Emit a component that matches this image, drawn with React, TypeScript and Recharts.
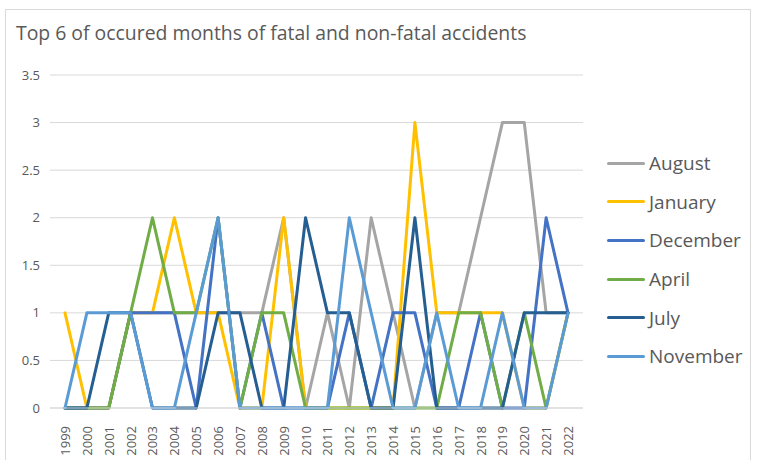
import { LineChart, Line, XAxis, YAxis, CartesianGrid } from 'recharts';

const years = [
  '1999', '2000', '2001', '2002', '2003', '2004', '2005', '2006', '2007', '2008', '2009', '2010',
  '2011', '2012', '2013', '2014', '2015', '2016', '2017', '2018', '2019', '2020', '2021', '2022',
];
const august = [0, 0, 0, 1, 1, 1, 1, 1, 1, 1, 2, 0, 1, 0, 2, 1, 0, 1, 1, 2, 3, 3, 1, 1];
const january = [1, 0, 0, 1, 1, 2, 1, 1, 0, 0, 2, 0, 0, 0, 0, 0, 3, 1, 1, 1, 1, 0, 0, 1];
const december = [0, 0, 0, 1, 1, 1, 0, 2, 0, 1, 0, 0, 0, 1, 0, 1, 1, 0, 0, 1, 0, 0, 2, 1];
const april = [0, 0, 0, 1, 2, 1, 1, 2, 0, 1, 1, 0, 0, 0, 0, 0, 0, 0, 1, 1, 0, 1, 0, 1];
const july = [0, 0, 1, 1, 0, 0, 0, 1, 1, 0, 0, 2, 1, 1, 0, 0, 2, 0, 0, 0, 0, 1, 1, 1];
const november = [0, 1, 1, 1, 0, 0, 1, 2, 0, 0, 0, 0, 0, 2, 1, 0, 0, 1, 0, 0, 1, 0, 0, 1];
const yTicks = [0, 0.5, 1, 1.5, 2, 2.5, 3, 3.5];

// drawn bottom to top, same order as the legend
const series = [
  { key: 'August', values: august, color: '#A5A5A5' },
  { key: 'January', values: january, color: '#FFC000' },
  { key: 'December', values: december, color: '#4472C4' },
  { key: 'April', values: april, color: '#70AD47' },
  { key: 'July', values: july, color: '#255E91' },
  { key: 'November', values: november, color: '#5B9BD5' },
];

const data = years.map((year, i) => {
  const row: Record<string, string | number> = { year };
  series.forEach((s) => {
    row[s.key] = s.values[i];
  });
  return row;
});

const FONT = '"Open Sans", sans-serif';
const TEXT = '#595959';

function YearTick({ x, y, payload }: any) {
  return (
    <text
      x={x}
      y={y}
      transform={`rotate(-90, ${x}, ${y})`}
      dx={-10}
      dy={5}
      textAnchor="end"
      fontSize={13}
      fontFamily={FONT}
      fill={TEXT}
    >
      {payload.value}
    </text>
  );
}

function MonthLegend() {
  return (
    <div style={{ position: 'absolute', left: 607, top: 144, fontFamily: FONT, fontSize: 19, color: TEXT }}>
      {series.map((s) => (
        <div key={s.key} style={{ display: 'flex', alignItems: 'center', height: 38.6 }}>
          <span style={{ display: 'inline-block', width: 38, height: 3, borderRadius: 2, background: s.color, marginRight: 4 }} />
          <span>{s.key}</span>
        </div>
      ))}
    </div>
  );
}

export default function App() {
  return (
    <div style={{ position: 'absolute', left: 0, top: 0, width: 760, height: 460, background: '#fff', overflow: 'hidden' }}>
      <div
        style={{
          position: 'absolute',
          left: 5,
          top: 9,
          width: 744,
          height: 470,
          border: '1px solid #d9d9d9',
        }}
      />
      <div
        style={{
          position: 'absolute',
          left: 16,
          top: 19,
          fontFamily: FONT,
          fontSize: 19.4,
          color: TEXT,
          whiteSpace: 'nowrap',
        }}
      >
        Top 6 of occured months of fatal and non-fatal accidents
      </div>
      <div style={{ position: 'absolute', left: 0, top: 0 }}>
        <LineChart width={760} height={460} data={data} margin={{ top: 75, right: 177, bottom: 0, left: 0 }}>
          <CartesianGrid vertical={false} stroke="#d9d9d9" strokeWidth={1} />
          <XAxis
            dataKey="year"
            interval={0}
            height={52}
            padding={{ left: 15, right: 15 }}
            tickLine={false}
            axisLine={{ stroke: '#d9d9d9' }}
            tick={<YearTick />}
          />
          <YAxis
            domain={[0, 3.5]}
            ticks={yTicks}
            width={50}
            tickMargin={4}
            axisLine={false}
            tickLine={false}
            tick={{ fontSize: 13, fontFamily: FONT, fill: TEXT }}
          />
          {series.map((s) => (
            <Line
              key={s.key}
              type="linear"
              dataKey={s.key}
              stroke={s.color}
              strokeWidth={3}
              strokeLinejoin="round"
              strokeLinecap="round"
              dot={false}
              activeDot={false}
              isAnimationActive={false}
            />
          ))}
        </LineChart>
      </div>
      <MonthLegend />
    </div>
  );
}
